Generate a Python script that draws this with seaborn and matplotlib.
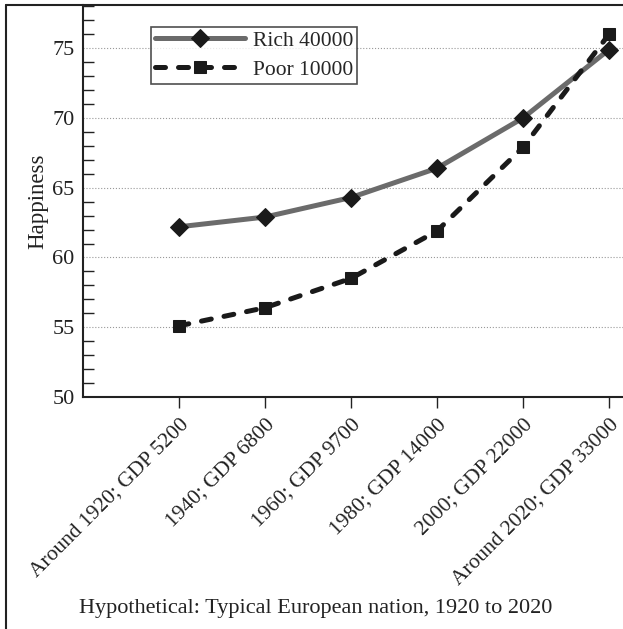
import matplotlib
matplotlib.use("Agg")
import matplotlib.pyplot as plt
import seaborn as sns
import pandas as pd
from matplotlib.lines import Line2D
from matplotlib.ticker import MultipleLocator

periods = ["Around 1920; GDP 5200", "1940; GDP 6800", "1960; GDP 9700",
           "1980; GDP 14000", "2000; GDP 22000", "Around 2020; GDP 33000"]
rich = [62.2, 62.9, 64.3, 66.4, 70.0, 74.9]
poor = [55.1, 56.4, 58.5, 61.9, 67.9, 76.0]

df = pd.DataFrame({"pos": range(len(periods)), "Rich 40000": rich, "Poor 10000": poor})

sns.set_style("white")
plt.rcParams["font.family"] = ["Liberation Serif", "DejaVu Serif"]

fig = plt.figure(figsize=(6.23, 6.29), dpi=100)
W, H = 623, 629
ax = fig.add_axes([83 / W, 1 - 397 / H, (623 - 83) / W, (397 - 5) / H])

sns.lineplot(data=df, x="pos", y="Rich 40000", ax=ax, color="#6b6b6b", lw=3.6,
             marker="D", markersize=9.5, markerfacecolor="#1a1a1a",
             markeredgecolor="#1a1a1a", label="Rich 40000", zorder=3)
sns.lineplot(data=df, x="pos", y="Poor 10000", ax=ax, color="#1a1a1a", lw=3.6,
             linestyle=(0, (2.0, 2.6)), dash_capstyle="round",
             marker="s", markersize=8.5, markerfacecolor="#1a1a1a",
             markeredgecolor="#1a1a1a", label="Poor 10000", zorder=4)

ax.set_xlim(-1.116, 5.163)
ax.set_ylim(50, 78.1)
ax.yaxis.set_major_locator(MultipleLocator(5))
ax.yaxis.set_minor_locator(MultipleLocator(1))
ax.set_yticks([50, 55, 60, 65, 70, 75])
ax.tick_params(axis="y", which="minor", direction="in", length=8, width=1, color="#222222", left=True)
ax.tick_params(axis="y", which="major", direction="in", length=0, labelsize=16, pad=6, colors="#222222")
ax.set_xticks(range(len(periods)))
ax.set_xticklabels(periods, rotation=45, ha="right", rotation_mode="anchor", fontsize=15.5, color="#222222")
ax.tick_params(axis="x", direction="out", length=8, width=1, color="#222222", bottom=True, pad=5)
ax.grid(axis="y", which="major", linestyle=":", color="#999999", lw=0.8)
ax.grid(axis="x", visible=False)

for s in ["top", "right"]:
    ax.spines[s].set_visible(False)
for s in ["left", "bottom"]:
    ax.spines[s].set_color("#222222")
    ax.spines[s].set_linewidth(1.5)

ax.set_xlabel("")
ax.set_ylabel("Happiness", fontsize=16.5, color="#222222", labelpad=3)

leg = ax.legend(loc="upper left", bbox_to_anchor=(0.125, 0.945), fontsize=15.5, frameon=True,
                fancybox=False, edgecolor="#222222", handlelength=4.2, handletextpad=0.35,
                borderpad=0.2, labelspacing=0.4, borderaxespad=0)
leg.get_frame().set_linewidth(1.2)

fig.text(316 / W, 1 - 608 / H, "Hypothetical: Typical European nation, 1920 to 2020",
         ha="center", va="center", fontsize=16, color="#222222")

# figure frame on left and top
fig.add_artist(Line2D([6 / W, 6 / W], [0, 1 - 5 / H], transform=fig.transFigure, color="#222222", lw=1.5))
fig.add_artist(Line2D([6 / W, 1], [1 - 5 / H, 1 - 5 / H], transform=fig.transFigure, color="#222222", lw=1.5))

fig.savefig("out.png", dpi=100)
